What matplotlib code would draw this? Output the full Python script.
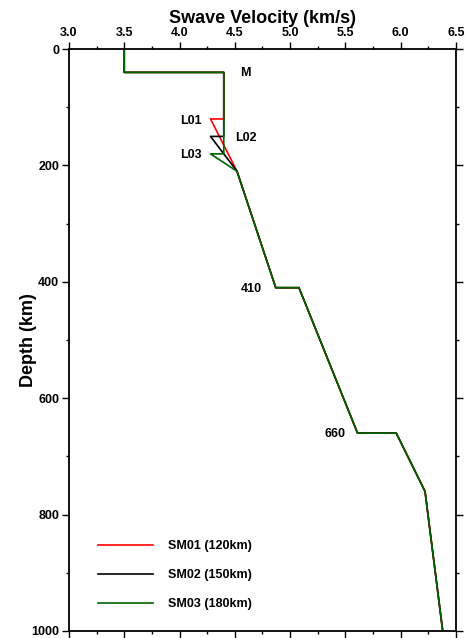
import numpy as np
import matplotlib.pyplot as plt
from matplotlib.ticker import MultipleLocator

plt.rcParams['font.family'] = ['Liberation Sans', 'DejaVu Sans']
plt.rcParams['font.weight'] = 'bold'

# crust + lid, shared by all three models
crust_depth = [0, 40, 40]
crust_vs = [3.5, 3.5, 4.40]

# low-velocity layer top for each model
lvz_top = {"SM01 (120km)": 120, "SM02 (150km)": 150, "SM03 (180km)": 180}
lid_vs = 4.40
lvz_vs = 4.28

# mantle below 210 km (common)
mantle_depth = [210, 410, 410, 660, 660, 760, 1000]
mantle_vs = [4.52, 4.87, 5.08, 5.61, 5.96, 6.22, 6.38]

colors = ["red", "black", "#006400"]

fig = plt.figure(figsize=(4.66, 6.38), dpi=100)
ax = fig.add_axes([0.148, 0.011, 0.8305, 0.912])

for (name, ztop), c in zip(lvz_top.items(), colors):
    depth = crust_depth + [ztop, ztop] + mantle_depth
    vs = crust_vs + [lid_vs, lvz_vs] + mantle_vs
    ax.plot(vs, depth, color=c, lw=1.2, label=name)

ax.set_xlim(3.0, 6.5)
ax.set_ylim(1000, 0)
ax.xaxis.set_major_locator(MultipleLocator(0.5))
ax.xaxis.set_minor_locator(MultipleLocator(0.25))
ax.yaxis.set_major_locator(MultipleLocator(200))
ax.yaxis.set_minor_locator(MultipleLocator(100))
ax.xaxis.set_major_formatter(plt.FormatStrFormatter('%.1f'))
ax.tick_params(which='both', direction='out', top=True, bottom=True,
               left=True, right=True, labeltop=True, labelbottom=False,
               width=1.0, labelsize=9, pad=2)
ax.tick_params(which='major', length=5)
ax.tick_params(which='minor', length=2.5)
for s in ax.spines.values():
    s.set_linewidth(1.3)

ax.xaxis.set_label_position('top')
ax.set_xlabel("Swave Velocity (km/s)", fontsize=13, fontweight='bold', labelpad=3)
ax.set_ylabel("Depth (km)", fontsize=13, fontweight='bold', va='center')
ax.yaxis.set_label_coords(-0.104, 0.5)

# discontinuity labels
ax.text(4.55, 41, "M", fontsize=9, ha='left', va='center')
ax.text(4.20, 124, "L01", fontsize=9, ha='right', va='center')
ax.text(4.50, 153, "L02", fontsize=9, ha='left', va='center')
ax.text(4.20, 182, "L03", fontsize=9, ha='right', va='center')
ax.text(4.745, 412, "410", fontsize=9, ha='right', va='center')
ax.text(5.50, 662, "660", fontsize=9, ha='right', va='center')

ax.legend(loc='lower left', bbox_to_anchor=(0.045, 0.0165), frameon=False,
          fontsize=9, handlelength=4.4, handletextpad=1.2, labelspacing=1.35)

fig.savefig("out.png", dpi=100)
